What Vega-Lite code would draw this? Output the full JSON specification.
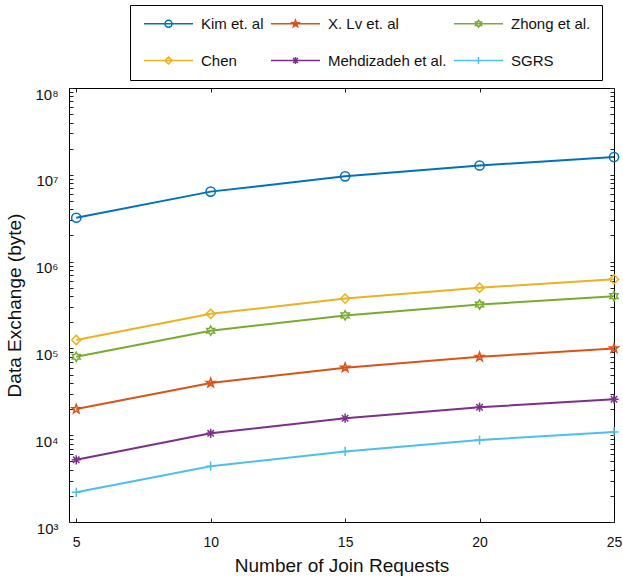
{
  "$schema": "https://vega.github.io/schema/vega-lite/v6.json",
  "width": 545,
  "height": 434,
  "autosize": {"type": "none"},
  "padding": {"left": 69, "top": 88, "right": 9, "bottom": 57},
  "background": "white",
  "config": {
    "font": "Liberation Sans",
    "view": {"stroke": "black", "strokeWidth": 1},
    "axis": {
      "labelFont": "Liberation Sans",
      "titleFont": "Liberation Sans",
      "labelColor": "#111",
      "titleColor": "#111",
      "tickColor": "#222",
      "grid": false,
      "domain": false,
      "labelFontSize": 15,
      "titleFontSize": 19,
      "titleFontWeight": "normal"
    },
    "legend": {
      "orient": "none",
      "legendX": 61,
      "legendY": -83,
      "direction": "horizontal",
      "columns": 3,
      "strokeColor": "black",
      "fillColor": "white",
      "padding": 11,
      "rowPadding": 21,
      "columnPadding": 4,
      "symbolSize": 49,
      "symbolStrokeWidth": 1.5,
      "symbolOffset": 20,
      "labelOffset": 25,
      "labelFont": "Liberation Sans",
      "labelFontSize": 15,
      "labelColor": "#111",
      "labelLimit": 300
    }
  },
  "data": {
    "values": [
      {"n": 5, "method": "Kim et. al", "v": 3200000},
      {"n": 10, "method": "Kim et. al", "v": 6400000},
      {"n": 15, "method": "Kim et. al", "v": 9600000},
      {"n": 20, "method": "Kim et. al", "v": 12800000},
      {"n": 25, "method": "Kim et. al", "v": 16000000},
      {"n": 5, "method": "X. Lv et. al", "v": 20000},
      {"n": 10, "method": "X. Lv et. al", "v": 40000},
      {"n": 15, "method": "X. Lv et. al", "v": 60000},
      {"n": 20, "method": "X. Lv et. al", "v": 80000},
      {"n": 25, "method": "X. Lv et. al", "v": 100000},
      {"n": 5, "method": "Zhong et al.", "v": 80000},
      {"n": 10, "method": "Zhong et al.", "v": 160000},
      {"n": 15, "method": "Zhong et al.", "v": 240000},
      {"n": 20, "method": "Zhong et al.", "v": 320000},
      {"n": 25, "method": "Zhong et al.", "v": 400000},
      {"n": 5, "method": "Chen", "v": 125000},
      {"n": 10, "method": "Chen", "v": 250000},
      {"n": 15, "method": "Chen", "v": 375000},
      {"n": 20, "method": "Chen", "v": 500000},
      {"n": 25, "method": "Chen", "v": 625000},
      {"n": 5, "method": "Mehdizadeh et al.", "v": 5200},
      {"n": 10, "method": "Mehdizadeh et al.", "v": 10500},
      {"n": 15, "method": "Mehdizadeh et al.", "v": 15700},
      {"n": 20, "method": "Mehdizadeh et al.", "v": 21000},
      {"n": 25, "method": "Mehdizadeh et al.", "v": 26000},
      {"n": 5, "method": "SGRS", "v": 2200},
      {"n": 10, "method": "SGRS", "v": 4400},
      {"n": 15, "method": "SGRS", "v": 6500},
      {"n": 20, "method": "SGRS", "v": 8800},
      {"n": 25, "method": "SGRS", "v": 10900}
    ]
  },
  "layer": [
    {
      "mark": {"type": "line", "strokeWidth": 2},
      "encoding": {
        "x": {
          "field": "n", "type": "quantitative",
          "scale": {"domain": [4.73, 25], "nice": false, "zero": false},
          "axis": {
            "orient": "bottom", "values": [5, 10, 15, 20, 25],
            "offset": -4, "tickSize": 4, "labelPadding": 13, "labelFontSize": 14,
            "labelFlush": false, "labelOverlap": false,
            "title": "Number of Join Requests", "titlePadding": 7
          }
        },
        "y": {
          "field": "v", "type": "quantitative",
          "scale": {"type": "log", "domain": [1000, 100000000], "nice": false},
          "axis": {
            "orient": "left",
            "values": [1000,2000,3000,4000,5000,6000,7000,8000,9000,10000,20000,30000,40000,50000,60000,70000,80000,90000,100000,200000,300000,400000,500000,600000,700000,800000,900000,1000000,2000000,3000000,4000000,5000000,6000000,7000000,8000000,9000000,10000000,20000000,30000000,40000000,50000000,60000000,70000000,80000000,90000000,100000000],
            "labelExpr": "datum.value == 1000 ? '10³' : datum.value == 10000 ? '10⁴' : datum.value == 100000 ? '10⁵' : datum.value == 1000000 ? '10⁶' : datum.value == 10000000 ? '10⁷' : datum.value == 100000000 ? '10⁸' : ''",
            "offset": -4, "tickSize": 4, "labelPadding": 11,
            "labelOverlap": false, "labelOffset": 6,
            "title": "Data Exchange (byte)", "titlePadding": 10
          }
        },
        "color": {
          "field": "method", "type": "nominal",
          "scale": {
            "domain": ["Kim et. al", "X. Lv et. al", "Zhong et al.", "Chen", "Mehdizadeh et al.", "SGRS"],
            "range": ["#0072BD", "#D95319", "#77AC30", "#EDB120", "#7E2F8E", "#4DBEEE"]
          },
          "legend": {
            "title": null,
            "encode": {"symbols": {"update": {
              "shape": {"signal": "'M-7,0L7,0' + scale('shape', datum.value)"},
              "size": {"value": 49},
              "fill": {"value": "transparent"},
              "stroke": {"scale": "color", "field": "value"},
              "strokeWidth": {"value": 1.5}
            }}}
          }
        }
      }
    },
    {
      "mark": {"type": "point", "filled": false, "size": 85, "strokeWidth": 1.5, "opacity": 1},
      "encoding": {
        "x": {
          "field": "n", "type": "quantitative",
          "scale": {"domain": [4.73, 25], "nice": false, "zero": false},
          "axis": {
            "orient": "top", "values": [5, 10, 15, 20, 25],
            "offset": -4, "tickSize": 4, "labels": false, "title": null
          }
        },
        "y": {
          "field": "v", "type": "quantitative",
          "scale": {"type": "log", "domain": [1000, 100000000], "nice": false},
          "axis": {
            "orient": "right",
            "values": [1000,2000,3000,4000,5000,6000,7000,8000,9000,10000,20000,30000,40000,50000,60000,70000,80000,90000,100000,200000,300000,400000,500000,600000,700000,800000,900000,1000000,2000000,3000000,4000000,5000000,6000000,7000000,8000000,9000000,10000000,20000000,30000000,40000000,50000000,60000000,70000000,80000000,90000000,100000000],
            "offset": -4, "tickSize": 4, "labels": false, "title": null
          }
        },
        "color": {
          "field": "method", "type": "nominal",
          "scale": {
            "domain": ["Kim et. al", "X. Lv et. al", "Zhong et al.", "Chen", "Mehdizadeh et al.", "SGRS"],
            "range": ["#0072BD", "#D95319", "#77AC30", "#EDB120", "#7E2F8E", "#4DBEEE"]
          },
          "legend": {
            "title": null,
            "encode": {"symbols": {"update": {
              "shape": {"signal": "'M-7,0L7,0' + scale('shape', datum.value)"},
              "size": {"value": 49},
              "fill": {"value": "transparent"},
              "stroke": {"scale": "color", "field": "value"},
              "strokeWidth": {"value": 1.5}
            }}}
          }
        },
        "shape": {
          "field": "method", "type": "nominal",
          "scale": {
            "domain": ["Kim et. al", "X. Lv et. al", "Zhong et al.", "Chen", "Mehdizadeh et al.", "SGRS", "_unused"],
            "range": [
              "M1,0A1,1 0 1,1 -1,0A1,1 0 1,1 1,0Z",
              "M0,-1L0.235,-0.324L0.951,-0.309L0.380,0.124L0.588,0.809L0,0.4L-0.588,0.809L-0.380,0.124L-0.951,-0.309L-0.235,-0.324Z",
              "M0,-1L0.289,-0.5L0.866,-0.5L0.577,0L0.866,0.5L0.289,0.5L0,1L-0.289,0.5L-0.866,0.5L-0.577,0L-0.866,-0.5L-0.289,-0.5Z",
              "M0,-1L1,0L0,1L-1,0Z",
              "M-1,0L1,0M0,-1L0,1M-0.7,-0.7L0.7,0.7M-0.7,0.7L0.7,-0.7",
              "M-1,0L1,0M0,-1L0,1",
              "M0,0"
            ]
          },
          "legend": null
        }
      }
    }
  ],
  "resolve": {"axis": {"x": "independent", "y": "independent"}}
}
